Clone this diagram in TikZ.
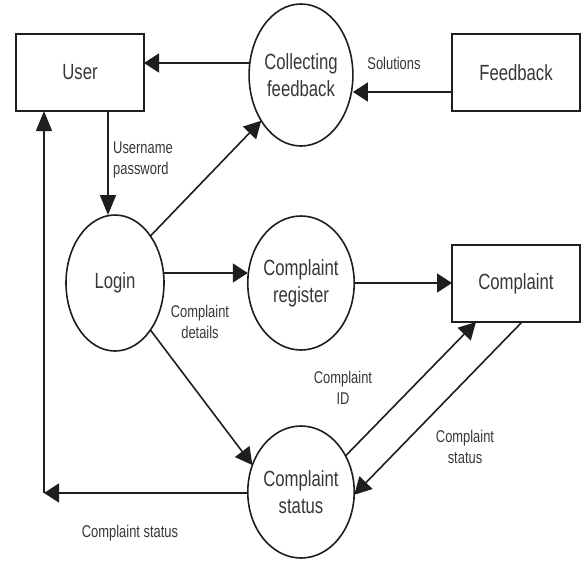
\documentclass[tikz,border=0pt]{standalone}
\usepackage{fontspec}
\setmainfont{Liberation Sans}[FakeStretch=0.76]
\usetikzlibrary{shapes.geometric,arrows.meta}
\definecolor{ink}{RGB}{30,30,30}
\definecolor{txt}{RGB}{55,55,55}
\begin{document}
\begin{tikzpicture}[x=1pt,y=1pt,
 box/.style={draw=ink,line width=1.6pt,minimum width=128pt,minimum height=77pt,inner sep=0pt,outer sep=0pt,font=\fontsize{22}{27}\selectfont,text=txt},
 proc/.style={draw=ink,line width=1.6pt,ellipse,inner sep=0pt,outer sep=0pt,align=center,font=\fontsize{22}{27}\selectfont,text=txt},
 harr/.style={draw=ink,line width=1.6pt,-{Triangle[length=15pt,width=19pt]}},
 varr/.style={draw=ink,line width=1.6pt,-{Triangle[length=20pt,width=16pt]}},
 darr/.style={draw=ink,line width=1.6pt,-{Triangle[length=17pt,width=18pt]}},
 lbl/.style={font=\fontsize{17}{21}\selectfont,text=txt,inner sep=0pt,align=center}]
\useasboundingbox (0,0) rectangle (581,-560);
% nodes
\node[box] (user) at (80,-72.5) {User};
\node[box] (fb) at (516,-72.5) {Feedback};
\node[box] (comp) at (516,-283.5) {Complaint};
\node[proc,minimum width=100pt,minimum height=142pt] (coll) at (301,-75) {Collecting\\feedback};
\node[proc,minimum width=98pt,minimum height=136pt] (login) at (115,-283) {Login};
\node[proc,minimum width=100pt,minimum height=134pt] (reg) at (301,-283) {Complaint\\register};
\node[proc,minimum width=100pt,minimum height=132pt] (stat) at (301,-492) {Complaint\\status};
\coordinate (corner) at (44,-493);
% connectors
\draw[harr] ([yshift=12pt]coll.west) -- ([yshift=9.5pt]user.east);
\draw[harr] ([yshift=-19.5pt]fb.west) -- ([yshift=-17pt]coll.east);
\draw[varr] ([xshift=28pt]user.south) -- ([xshift=-7pt]login.north);
\draw[darr] (login.53) -- (coll.229);
\draw[harr] ([yshift=10pt]login.east) -- ([yshift=10pt]reg.west);
\draw[harr] (reg.east) -- (reg.east -| comp.west);
\draw[darr] (login.307) -- (stat.151);
\draw[darr] (stat.39) -- ([xshift=-40pt]comp.south);
\draw[darr] ([xshift=6pt]comp.south) -- (stat.-3);
\draw[harr] (stat.west |- corner) -- (corner);
\draw[varr] (corner) -- (corner |- user.south);
% labels
\node[lbl] (l1) at (394,-63) {Solutions};
\node[lbl,align=left,anchor=west] (l2) at (113,-159.5) {Username\\password};
\node[lbl] (l3) at (200,-322) {Complaint\\details};
\node[lbl] (l4) at (343,-388) {Complaint\\ID};
\node[lbl] (l5) at (465,-447) {Complaint\\status};
\node[lbl] (l6) at (130,-533) {Complaint status};
\end{tikzpicture}
\end{document}
